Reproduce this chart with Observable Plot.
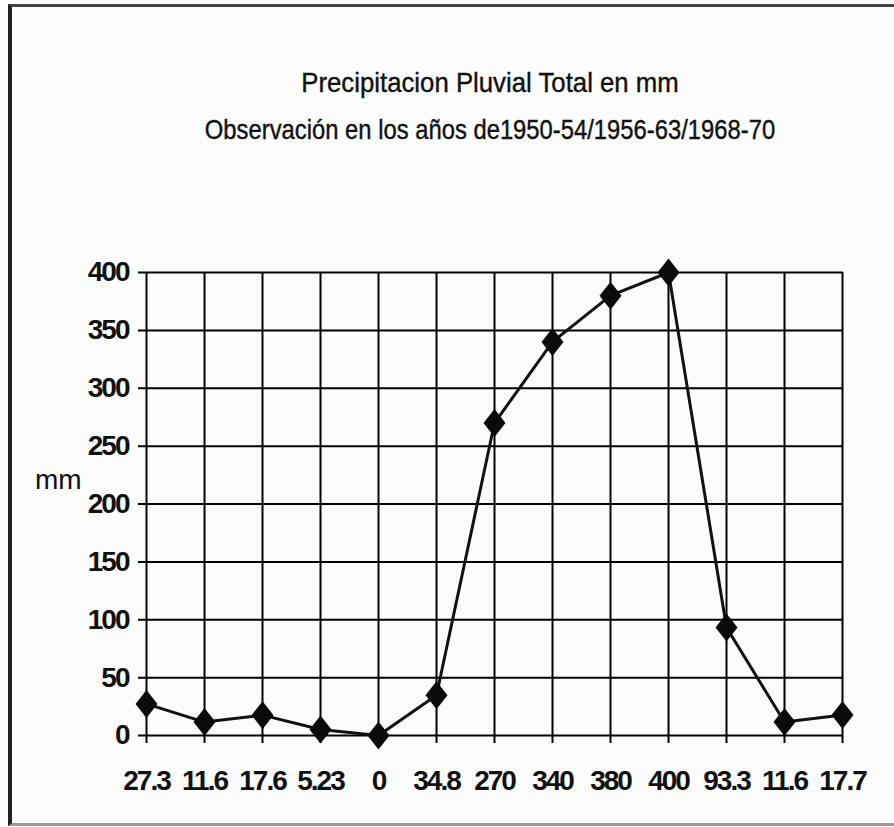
<!DOCTYPE html>
<html>
<head>
<meta charset="utf-8">
<script src="https://cdn.jsdelivr.net/npm/d3@7"></script>
<script src="https://cdn.jsdelivr.net/npm/@observablehq/plot@0.6"></script>
<style>
  html, body { margin: 0; padding: 0; background: #ffffff; }
  #wrap { position: relative; width: 894px; height: 827px; overflow: hidden; background: #fcfcfc; }
  #frame { position: absolute; left: 8px; top: 4px; width: 882px; height: 816px;
           border-left: 4px solid #222; border-top: 3px solid #444; border-bottom: 3px solid #9a9a9a; border-right: 1px solid #e2e2e2; }
  .ttl { position: absolute; left: 0; width: 980px; text-align: center; white-space: nowrap;
         font-family: "Liberation Sans", Arial, sans-serif;
         font-size: 28px; line-height: 28px; color: #111;
         transform-origin: 490px 50%; -webkit-text-stroke: 0.4px #111; }
  #t1 { top: 69px; transform: scaleX(0.92); }
  #t2 { top: 116px; transform: scaleX(0.85); }
  #ylab { position: absolute; left: 35px; top: 466px; font-family: "Liberation Sans", Arial, sans-serif;
          font-size: 28px; line-height: 28px; color: #111; }
  #chart { position: absolute; left: 0; top: 0; }
  #chart svg text { font-family: "Liberation Sans", Arial, sans-serif;
                    font-size: 28px; font-weight: bold; fill: #111; letter-spacing: -2px; }
</style>
</head>
<body>
<div id="wrap">
  <div id="frame"></div>
  <div class="ttl" id="t1">Precipitacion Pluvial Total en mm</div>
  <div class="ttl" id="t2">Observación en los años de1950-54/1956-63/1968-70</div>
  <div id="chart"></div>
  <div id="ylab">mm</div>
</div>
<script>
// Category labels along the x axis (as printed in the chart)
const categories = ["27.3", "11.6", "17.6", "5.23", "0", "34.8", "270", "340", "380", "400", "93.3", "11.6", "17.7"];
// Precipitation values (mm)
const values = [27.3, 11.6, 17.6, 5.23, 0, 34.8, 270, 340, 380, 400, 93.3, 11.6, 17.7];
// Y axis tick values
const yTicks = [0, 50, 100, 150, 200, 250, 300, 350, 400];

const idx = d3.range(categories.length);

const diamond = {
  draw(ctx) {
    const w = 11, h = 14;
    ctx.moveTo(0, -h);
    ctx.lineTo(w, 0);
    ctx.lineTo(0, h);
    ctx.lineTo(-w, 0);
    ctx.closePath();
  }
};

const chart = Plot.plot({
  width: 894,
  height: 827,
  marginTop: 272,
  marginBottom: 92,
  marginLeft: 144,
  marginRight: 51,
  style: { background: "transparent", color: "#111" },
  x: { type: "point", domain: idx, padding: 0, tickSize: 0, tickPadding: 35,
       tickFormat: i => categories[i], label: null },
  y: { domain: [0, 400], ticks: yTicks, tickSize: 0, tickPadding: 16, label: null },
  marks: [
    Plot.ruleY(yTicks, { y: d => d, stroke: "#000", strokeWidth: 2, insetLeft: -6 }),
    Plot.ruleX(idx, { x: d => d, y1: 400, y2: 0, stroke: "#000", strokeWidth: 2, insetBottom: -8 }),
    Plot.line(idx, { x: i => i, y: i => values[i], stroke: "#111", strokeWidth: 3 }),
    Plot.dot(idx, { x: i => i, y: i => values[i], symbol: diamond, fill: "#0a0a0a", stroke: "none" })
  ]
});
document.getElementById("chart").appendChild(chart);
</script>
</body>
</html>
